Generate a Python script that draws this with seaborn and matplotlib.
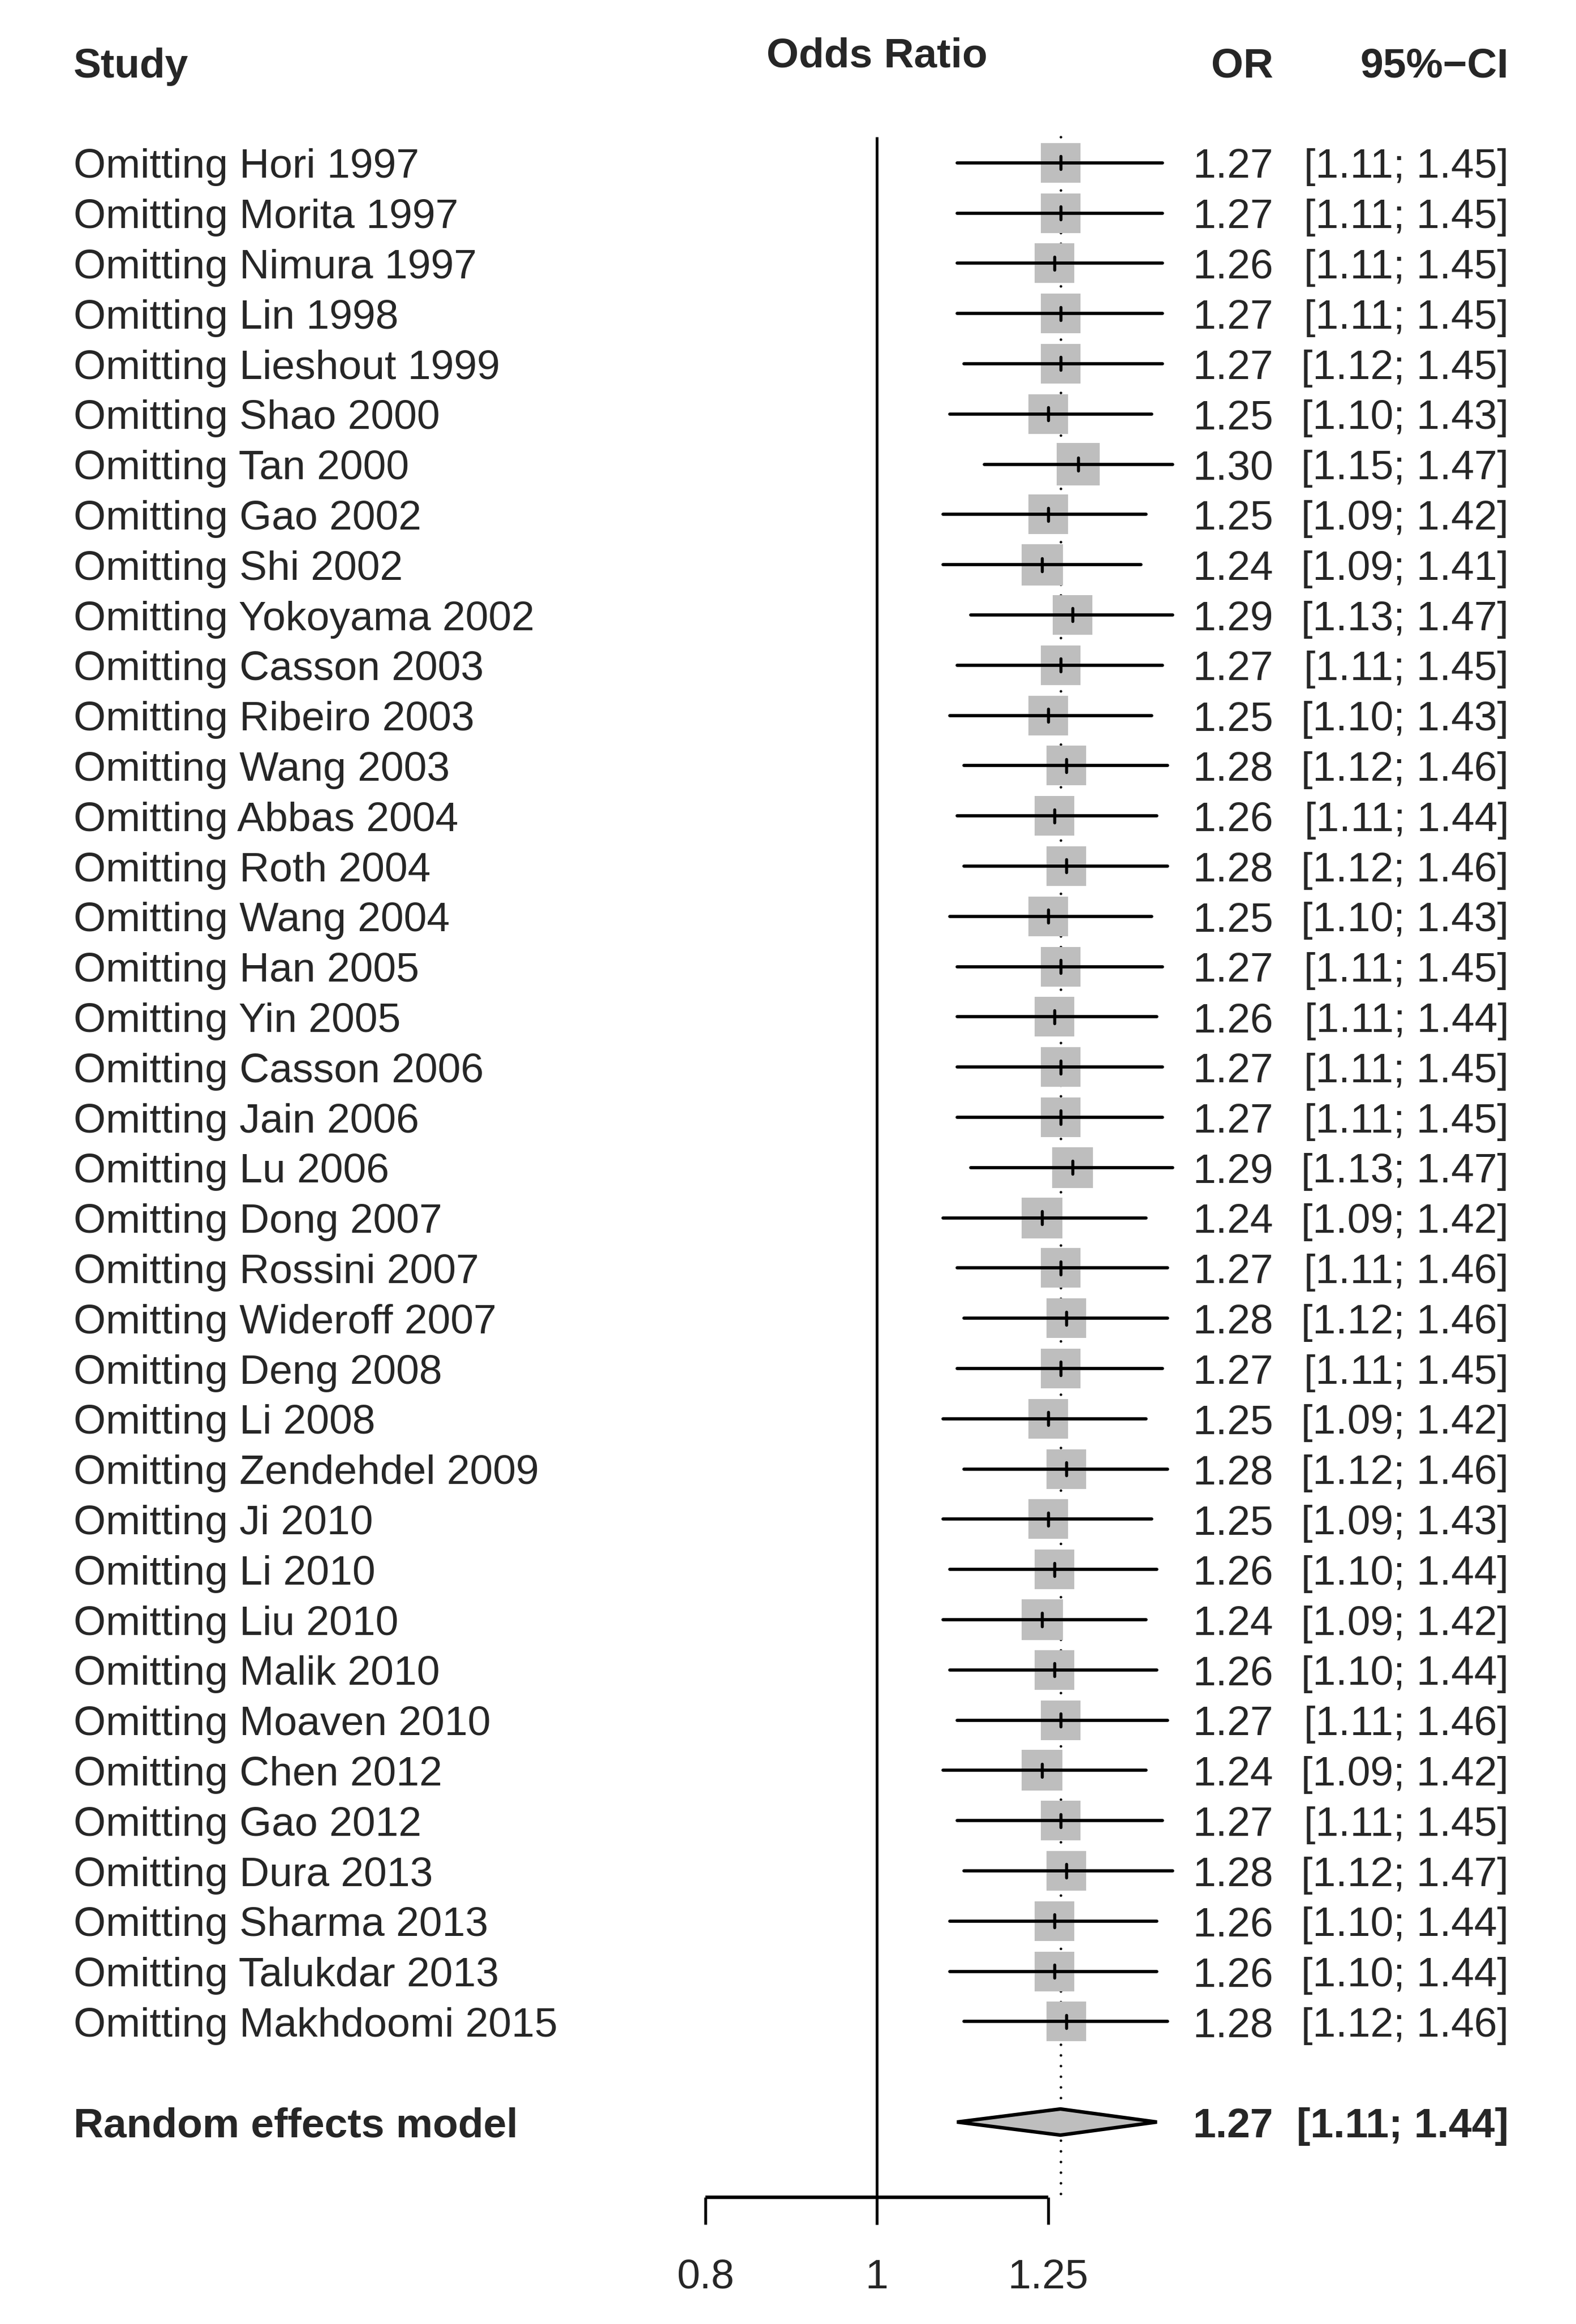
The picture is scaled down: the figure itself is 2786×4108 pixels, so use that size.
import numpy as np
import pandas as pd
import seaborn as sns
from matplotlib import pyplot as plt

# leave-one-out results
studies = ["Hori 1997", "Morita 1997", "Nimura 1997", "Lin 1998", "Lieshout 1999",
           "Shao 2000", "Tan 2000", "Gao 2002", "Shi 2002", "Yokoyama 2002",
           "Casson 2003", "Ribeiro 2003", "Wang 2003", "Abbas 2004", "Roth 2004",
           "Wang 2004", "Han 2005", "Yin 2005", "Casson 2006", "Jain 2006",
           "Lu 2006", "Dong 2007", "Rossini 2007", "Wideroff 2007", "Deng 2008",
           "Li 2008", "Zendehdel 2009", "Ji 2010", "Li 2010", "Liu 2010",
           "Malik 2010", "Moaven 2010", "Chen 2012", "Gao 2012", "Dura 2013",
           "Sharma 2013", "Talukdar 2013", "Makhdoomi 2015"]
or_vals = [1.27, 1.27, 1.26, 1.27, 1.27, 1.25, 1.30, 1.25, 1.24, 1.29,
           1.27, 1.25, 1.28, 1.26, 1.28, 1.25, 1.27, 1.26, 1.27, 1.27,
           1.29, 1.24, 1.27, 1.28, 1.27, 1.25, 1.28, 1.25, 1.26, 1.24,
           1.26, 1.27, 1.24, 1.27, 1.28, 1.26, 1.26, 1.28]
ci_lo = [1.11, 1.11, 1.11, 1.11, 1.12, 1.10, 1.15, 1.09, 1.09, 1.13,
         1.11, 1.10, 1.12, 1.11, 1.12, 1.10, 1.11, 1.11, 1.11, 1.11,
         1.13, 1.09, 1.11, 1.12, 1.11, 1.09, 1.12, 1.09, 1.10, 1.09,
         1.10, 1.11, 1.09, 1.11, 1.12, 1.10, 1.10, 1.12]
ci_hi = [1.45, 1.45, 1.45, 1.45, 1.45, 1.43, 1.47, 1.42, 1.41, 1.47,
         1.45, 1.43, 1.46, 1.44, 1.46, 1.43, 1.45, 1.44, 1.45, 1.45,
         1.47, 1.42, 1.46, 1.46, 1.45, 1.42, 1.46, 1.43, 1.44, 1.42,
         1.44, 1.46, 1.42, 1.45, 1.47, 1.44, 1.44, 1.46]
# relative box size
box_weight = [1.0, 1.0, 1.0, 1.0, 1.0, 1.0, 1.08, 1.0, 1.04, 1.0,
              1.0, 1.0, 1.0, 1.0, 1.0, 1.0, 1.0, 1.0, 1.0, 1.0,
              1.03, 1.03, 1.0, 1.0, 1.0, 1.0, 1.0, 1.0, 1.0, 1.04,
              1.0, 1.0, 1.03, 1.0, 1.0, 1.0, 1.0, 1.0]
pooled_or, pooled_lo, pooled_hi = 1.27, 1.11, 1.44
xticks = [0.8, 1, 1.25]
xtick_labels = ["0.8", "1", "1.25"]

sns.set_theme(style="white")
plt.rcParams['font.family'] = ['Liberation Sans', 'DejaVu Sans']

DPI = 300
fig = plt.figure(figsize=(2787 / DPI, 4108 / DPI), dpi=DPI)
ax = fig.add_axes([0, 0, 1, 1])
ax.set_xscale('log')
ax.set_xlim(np.exp(-1550 / 1358), np.exp(1237 / 1358))
ax.set_ylim(43.02, -3.24)
ax.axis('off')

df = pd.DataFrame({"study": studies, "OR": or_vals, "lo": ci_lo, "hi": ci_hi,
                   "w": box_weight})
df["row"] = np.arange(len(df))
n = len(df)
pooled_row = n + 1
axis_row = n + 2.5

fs = 17.6
gray = "#BEBEBE"
txt = ax.get_yaxis_transform()  # x in axes fraction, y in rows

# reference lines
ax.vlines(1, -0.52, axis_row + 0.54, color="black", lw=1.15, zorder=1)
ax.vlines(pooled_or, -0.52, axis_row, color="black", lw=1.1,
          linestyles=(0, (0.01, 4.1)), capstyle="round", zorder=1)

# study boxes
box_px = 70
sizes = {w: (box_px * w * 72 / DPI) ** 2 for w in df["w"].unique()}
sns.scatterplot(data=df, x="OR", y="row", size="w", sizes=sizes, marker="s",
                color=gray, edgecolor="none", linewidth=0, legend=False,
                ax=ax, zorder=2)
ax.hlines(df["row"], df["lo"], df["hi"], color="black", lw=1.35,
          capstyle="round", zorder=3)
ax.vlines(df["OR"], df["row"] - 0.13, df["row"] + 0.13, color="black",
          lw=1.3, capstyle="round", zorder=3)

# pooled diamond
h = 0.26
ax.fill([pooled_lo, pooled_or, pooled_hi, pooled_or],
        [pooled_row, pooled_row - h, pooled_row, pooled_row + h],
        facecolor=gray, edgecolor="black", lw=1.5, joinstyle="miter", zorder=3)

# x axis
ax.hlines(axis_row, xticks[0], xticks[-1], color="black", lw=1.5,
          capstyle="butt")
ax.vlines(xticks, axis_row, axis_row + 0.54, color="black", lw=1.2)
for t, lab in zip(xticks, xtick_labels):
    ax.text(t, axis_row + 1.81, lab, ha="center", va="baseline", fontsize=fs)

# headers
ax.text(0.0466, -1.70, "Study", transform=txt, ha="left", va="baseline",
        fontsize=fs, fontweight="bold")
ax.text(1, -1.91, "Odds Ratio", ha="center", va="baseline", fontsize=fs,
        fontweight="bold")
ax.text(0.8077, -1.70, "OR", transform=txt, ha="right", va="baseline",
        fontsize=fs, fontweight="bold")
ax.text(0.957, -1.70, "95%\u2212CI", transform=txt, ha="right", va="baseline",
        fontsize=fs, fontweight="bold")

base = 0.30
for r, s, o, lo, hi in zip(df["row"], df["study"], df["OR"], df["lo"], df["hi"]):
    ax.text(0.0466, r + base, f"Omitting {s}", transform=txt, ha="left",
            va="baseline", fontsize=fs)
    ax.text(0.8077, r + base, f"{o:.2f}", transform=txt, ha="right",
            va="baseline", fontsize=fs)
    ax.text(0.957, r + base, f"[{lo:.2f}; {hi:.2f}]", transform=txt,
            ha="right", va="baseline", fontsize=fs)

ax.text(0.0466, pooled_row + base, "Random effects model", transform=txt,
        ha="left", va="baseline", fontsize=fs, fontweight="bold")
ax.text(0.8077, pooled_row + base, f"{pooled_or:.2f}", transform=txt,
        ha="right", va="baseline", fontsize=fs, fontweight="bold")
ax.text(0.957, pooled_row + base, f"[{pooled_lo:.2f}; {pooled_hi:.2f}]",
        transform=txt, ha="right", va="baseline", fontsize=fs,
        fontweight="bold")

fig.savefig("out.png", dpi=DPI, facecolor="white")
